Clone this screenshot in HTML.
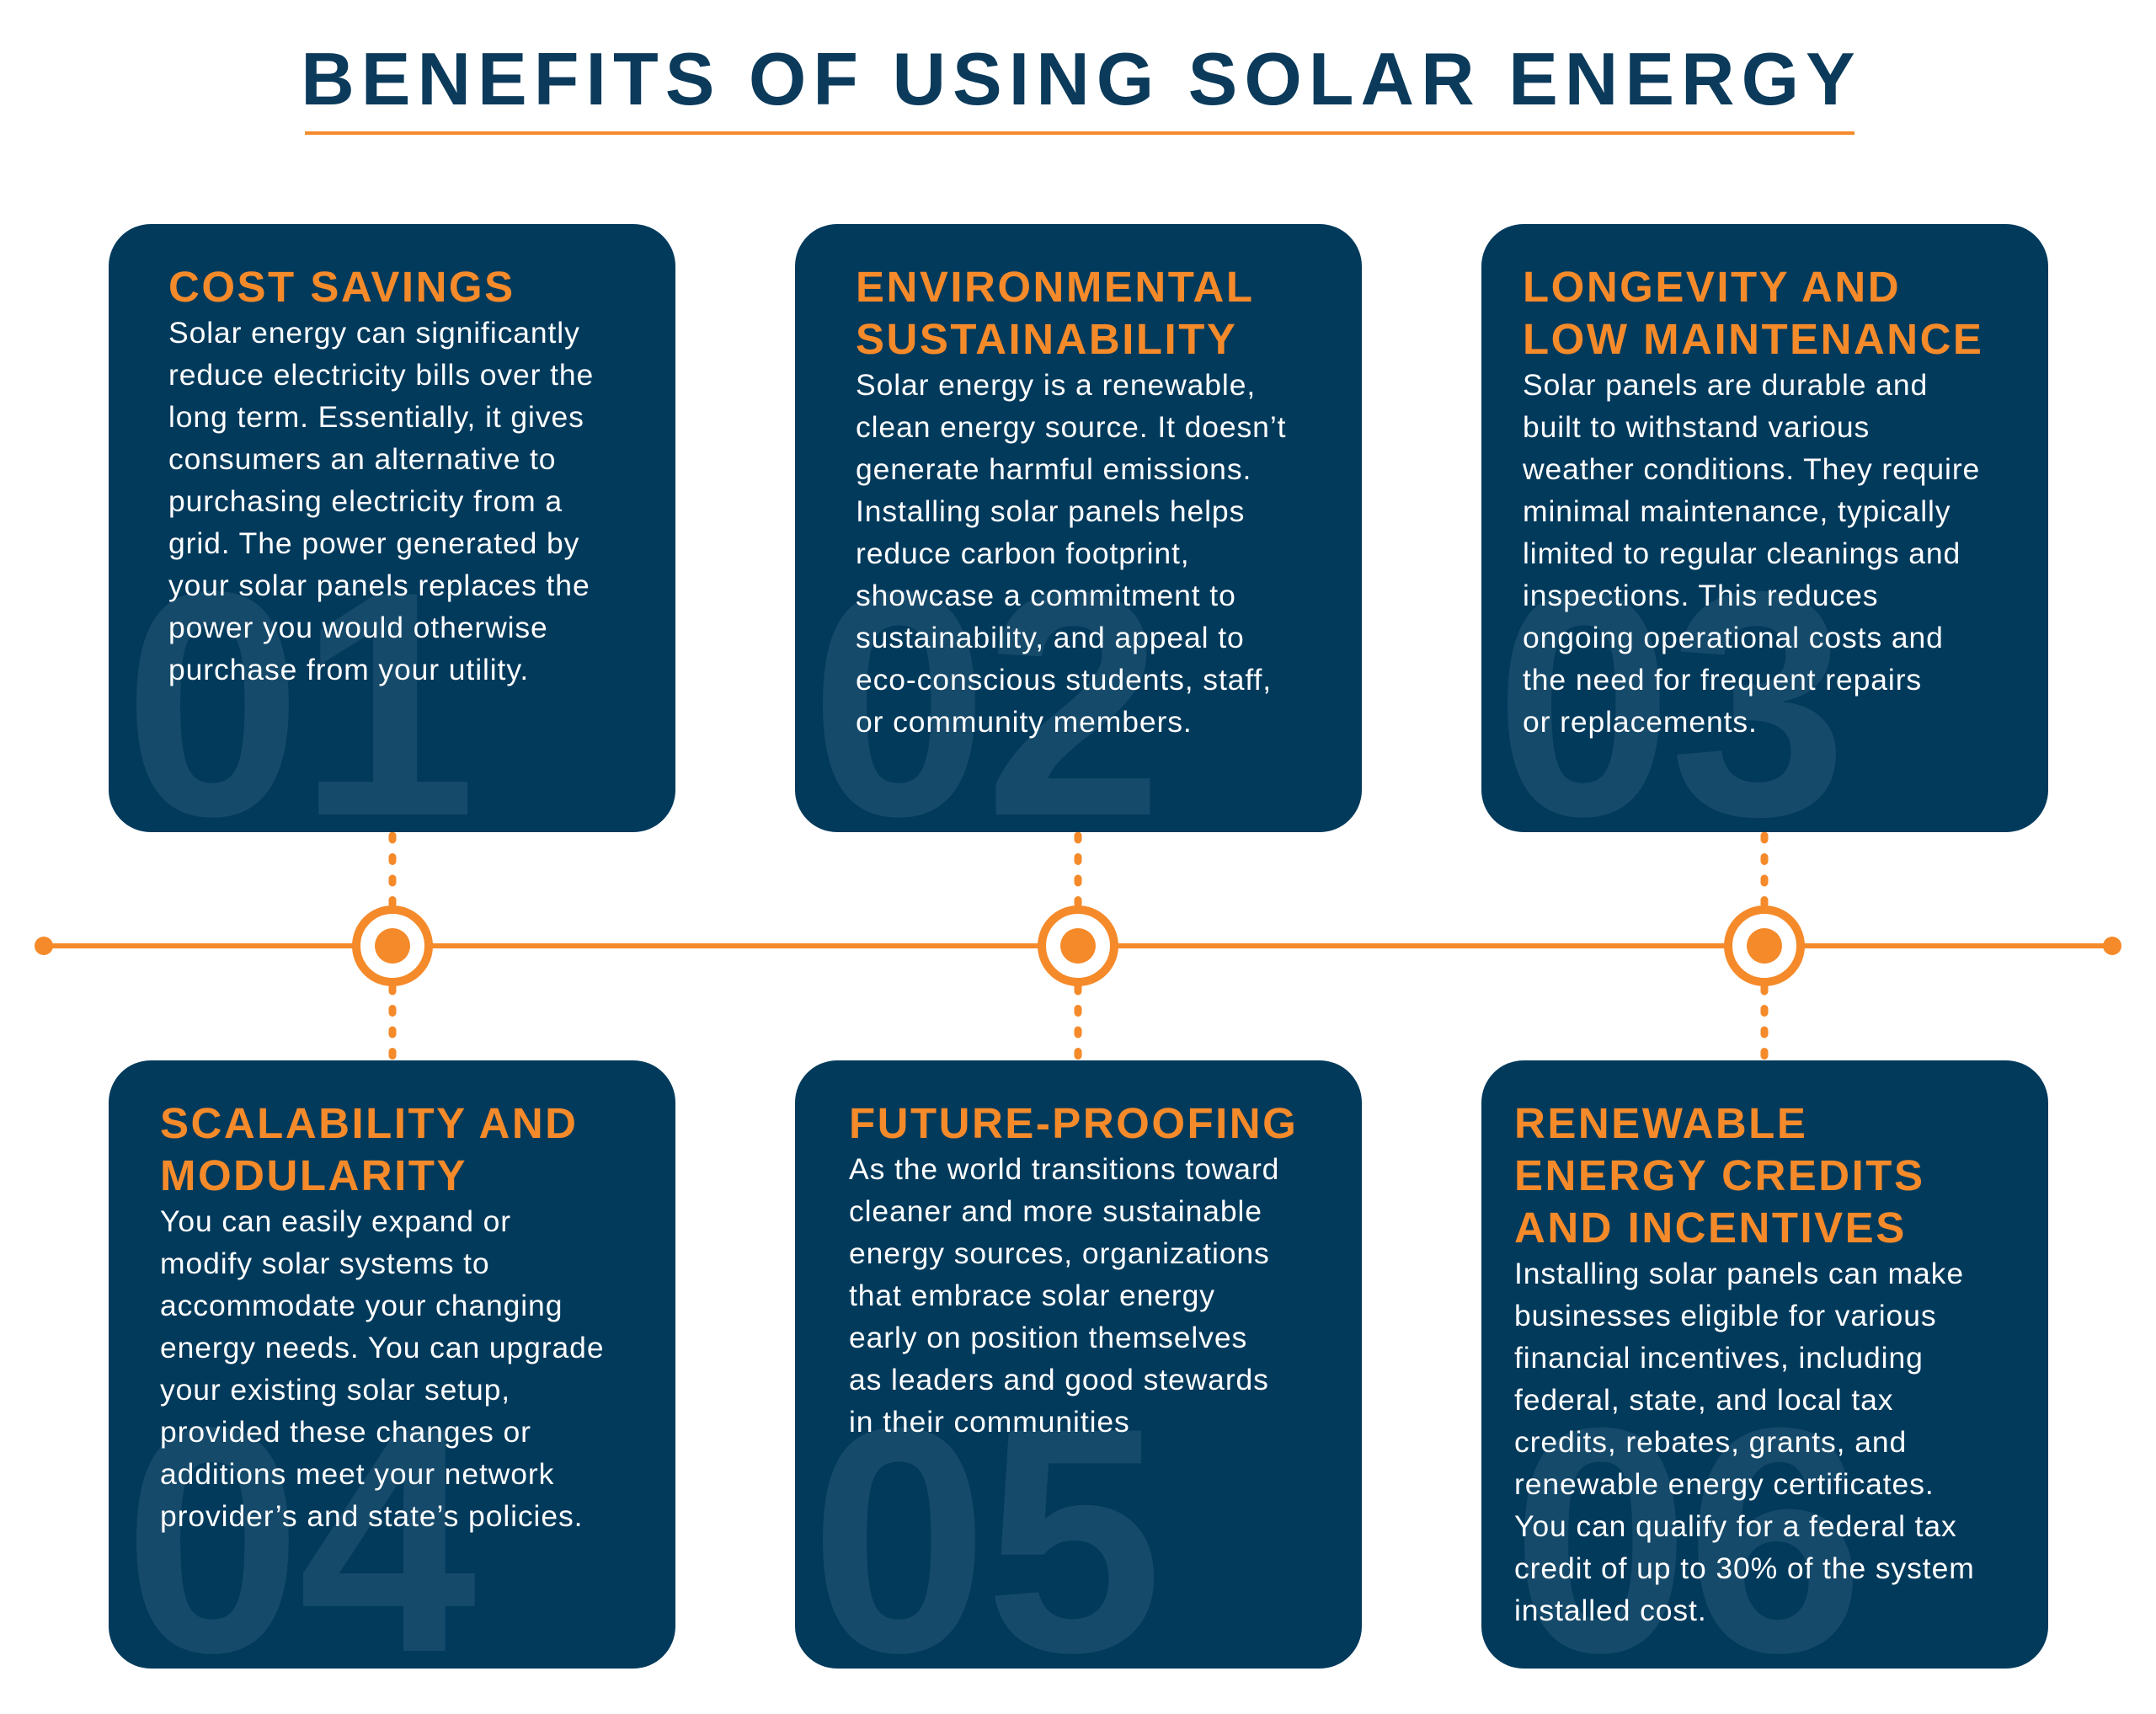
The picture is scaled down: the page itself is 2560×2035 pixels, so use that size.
<!DOCTYPE html>
<html><head><meta charset="utf-8"><style>
*{margin:0;padding:0;box-sizing:border-box}
body{width:2560px;height:2035px;background:#fff;position:relative;overflow:hidden;font-family:"Liberation Sans",sans-serif}
.title{position:absolute;left:0;width:2560px;top:44px;text-align:center;font-size:88px;font-weight:bold;color:#0b3a5b;letter-spacing:8px;line-height:100px;padding-left:8px}
.ul{position:absolute;left:362px;width:1840px;top:156px;height:4px;background:#f58a2a}
.card{position:absolute;width:673px;height:722px;background:#023a5c;border-radius:50px;overflow:hidden}
.num{position:absolute;font-size:380px;font-weight:bold;color:#164a6b;line-height:380px;top:380px;letter-spacing:-4px}
.txt{position:absolute;top:44px;color:#fff;white-space:nowrap}
.h{font-size:51px;font-weight:bold;color:#f58a2a;line-height:62px;letter-spacing:2.5px}
.b{font-size:35.5px;line-height:50px;letter-spacing:0.9px;margin-top:-2px}
</style></head><body>
<div class="title">BENEFITS OF USING SOLAR ENERGY</div>
<div class="ul"></div>

<svg width="2560" height="2035" style="position:absolute;left:0;top:0">
<g stroke="#f58a2a" fill="none">
<line x1="52" y1="1123" x2="2508" y2="1123" stroke-width="6"/>
<g stroke-width="9" stroke-linecap="round" stroke-dasharray="5 20.5">
<line x1="466" y1="992" x2="466" y2="1075"/><line x1="466" y1="1172" x2="466" y2="1257"/>
<line x1="1280" y1="992" x2="1280" y2="1075"/><line x1="1280" y1="1172" x2="1280" y2="1257"/>
<line x1="2095" y1="992" x2="2095" y2="1075"/><line x1="2095" y1="1172" x2="2095" y2="1257"/>
</g>
<g stroke-width="10" fill="#fff">
<circle cx="466" cy="1123" r="43"/><circle cx="1280" cy="1123" r="43"/><circle cx="2095" cy="1123" r="43"/>
</g>
</g>
<g fill="#f58a2a">
<circle cx="466" cy="1123" r="21"/><circle cx="1280" cy="1123" r="21"/><circle cx="2095" cy="1123" r="21"/>
<circle cx="52" cy="1123" r="11"/><circle cx="2508" cy="1123" r="11"/>
</g>
</svg>

<div class="card" style="left:129px;top:266px">
<div class="num" style="left:18px">01</div>
<div class="txt" style="left:71px"><div class="h">COST SAVINGS</div><div class="b">Solar energy can significantly<br>reduce electricity bills over the<br>long term. Essentially, it gives<br>consumers an alternative to<br>purchasing electricity from a<br>grid. The power generated by<br>your solar panels replaces the<br>power you would otherwise<br>purchase from your utility.</div></div>
</div>

<div class="card" style="left:944px;top:266px">
<div class="num" style="left:18px">02</div>
<div class="txt" style="left:72px"><div class="h">ENVIRONMENTAL<br>SUSTAINABILITY</div><div class="b">Solar energy is a renewable,<br>clean energy source. It doesn’t<br>generate harmful emissions.<br>Installing solar panels helps<br>reduce carbon footprint,<br>showcase a commitment to<br>sustainability, and appeal to<br>eco-conscious students, staff,<br>or community members.</div></div>
</div>

<div class="card" style="left:1759px;top:266px">
<div class="num" style="left:16px">03</div>
<div class="txt" style="left:49px"><div class="h">LONGEVITY AND<br>LOW MAINTENANCE</div><div class="b">Solar panels are durable and<br>built to withstand various<br>weather conditions. They require<br>minimal maintenance, typically<br>limited to regular cleanings and<br>inspections. This reduces<br>ongoing operational costs and<br>the need for frequent repairs<br>or replacements.</div></div>
</div>

<div class="card" style="left:129px;top:1259px">
<div class="num" style="left:18px">04</div>
<div class="txt" style="left:61px"><div class="h">SCALABILITY AND<br>MODULARITY</div><div class="b">You can easily expand or<br>modify solar systems to<br>accommodate your changing<br>energy needs. You can upgrade<br>your existing solar setup,<br>provided these changes or<br>additions meet your network<br>provider’s and state’s policies.</div></div>
</div>

<div class="card" style="left:944px;top:1259px">
<div class="num" style="left:18px">05</div>
<div class="txt" style="left:64px"><div class="h">FUTURE-PROOFING</div><div class="b">As the world transitions toward<br>cleaner and more sustainable<br>energy sources, organizations<br>that embrace solar energy<br>early on position themselves<br>as leaders and good stewards<br>in their communities</div></div>
</div>

<div class="card" style="left:1759px;top:1259px">
<div class="num" style="left:36px">06</div>
<div class="txt" style="left:39px"><div class="h">RENEWABLE<br>ENERGY CREDITS<br>AND INCENTIVES</div><div class="b">Installing solar panels can make<br>businesses eligible for various<br>financial incentives, including<br>federal, state, and local tax<br>credits, rebates, grants, and<br>renewable energy certificates.<br>You can qualify for a federal tax<br>credit of up to 30% of the system<br>installed cost.</div></div>
</div>
</body></html>
